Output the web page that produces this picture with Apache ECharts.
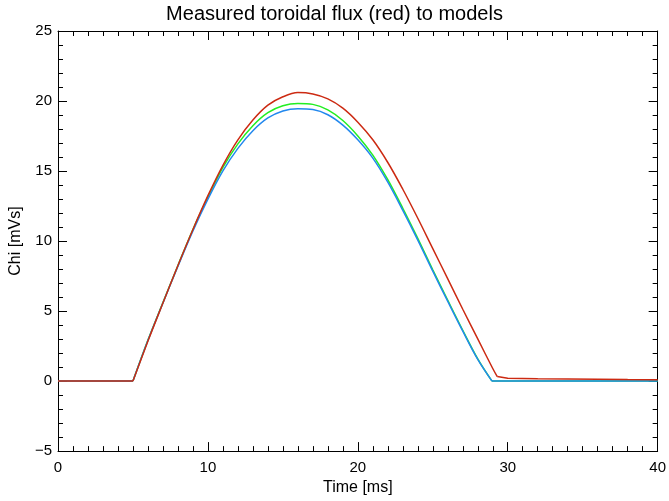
<!DOCTYPE html>
<html>
<head>
<meta charset="utf-8">
<script src="https://cdn.jsdelivr.net/npm/echarts@6/dist/echarts.min.js"></script>
<style>html,body{margin:0;padding:0;background:#fff}#c{width:669px;height:501px}</style>
</head>
<body>
<div id="c"></div>
<script>
// Measured (red) toroidal flux
const timeRed = [0,1,2,3,4,5,6,7,8,9,10,11,12,13,14,15,16,17,18,19,20,21,22,23,24,25,26,27,28,29,29.3,30,32,34,36,38,40];
const red     = [0,0,0,0,0,0,2.86,5.58,8.26,10.83,13.24,15.41,17.23,18.64,19.7,20.3,20.6,20.5,20.15,19.49,18.49,17.23,15.61,13.7,11.63,9.46,7.3,5.13,3.01,0.9,0.32,0.2,0.17,0.15,0.13,0.11,0.1];
// Models
const timeModel = [0,1,2,3,4,5,6,7,8,9,10,11,12,13,14,15,16,17,18,19,20,21,22,23,24,25,26,27,28,28.95,30,32,34,36,38,40];
const green = [0,0,0,0,0,0,2.93,5.61,8.26,10.83,13.14,15.26,16.94,18.24,19.17,19.66,19.82,19.76,19.37,18.61,17.51,16.14,14.38,12.34,10.19,7.95,5.77,3.63,1.59,0,0,0,0,0,0,0];
const blue  = [0,0,0,0,0,0,2.91,5.58,8.2,10.72,12.99,15.01,16.62,17.88,18.79,19.29,19.45,19.39,19.02,18.28,17.23,15.92,14.2,12.19,10.07,7.85,5.69,3.57,1.55,0,0,0,0,0,0,0];
const xTicks = [0,10,20,30,40];
const yTicks = [-5,0,5,10,15,20,25];

const pairs = (t, v) => t.map((x, i) => [x, v[i]]);
// split a trace into flat start, smooth hump and flat tail
const parts = (t, v, t0, t1) => {
  const p = pairs(t, v);
  return [p.filter(d => d[0] <= t0), p.filter(d => d[0] >= t0 && d[0] <= t1), p.filter(d => d[0] >= t1)];
};

const font = 'Liberation Sans';
const axisLine = {show: true, onZero: false, lineStyle: {color: '#000', width: 1}};
const tick = {show: true, inside: true, length: 9, lineStyle: {color: '#000', width: 1}};
const minor = (n) => ({show: true, splitNumber: n, length: 5, lineStyle: {color: '#000', width: 1}});

const traces = [
  {color: '#22ee22', z: 2, p: parts(timeModel, green, 5, 28.95)},
  {color: '#2288ee', z: 3, p: parts(timeModel, blue, 5, 28.95)},
  {color: '#cc2a12', z: 4, p: parts(timeRed, red, 5, 29.3)}
];
const series = [];
traces.forEach(tr => tr.p.forEach((d, k) => series.push({
  type: 'line', data: d, showSymbol: false, smooth: k === 1 ? 0.35 : false,
  lineStyle: {color: tr.color, width: 1.5}, z: tr.z
})));

const chart = echarts.init(document.getElementById('c'), null, {renderer: 'canvas'});
chart.setOption({
  animation: false,
  backgroundColor: '#fff',
  title: {
    text: 'Measured toroidal flux (red) to models',
    left: 'center', top: -1,
    textStyle: {fontFamily: font, fontWeight: 'normal', fontSize: 20, color: '#000'}
  },
  grid: {left: 58, right: 10, top: 31, bottom: 47},
  xAxis: [{
    type: 'value', min: 0, max: 40, interval: 10, position: 'bottom',
    name: 'Time [ms]', nameLocation: 'middle', nameGap: 28,
    nameTextStyle: {fontFamily: font, fontSize: 16, color: '#000'},
    axisLine: axisLine, axisTick: tick, minorTick: minor(10),
    axisLabel: {fontFamily: font, fontSize: 15, color: '#000', margin: 9,
      formatter: v => xTicks.includes(v) ? String(v) : ''},
    splitLine: {show: false}
  }, {
    type: 'value', min: 0, max: 40, interval: 10, position: 'top',
    axisLine: axisLine, axisTick: tick, minorTick: minor(10),
    axisLabel: {show: false}, splitLine: {show: false}
  }],
  yAxis: [{
    type: 'value', min: -5, max: 25, interval: 5, position: 'left',
    name: 'Chi [mVs]', nameLocation: 'middle', nameGap: 32,
    nameTextStyle: {fontFamily: font, fontSize: 16, color: '#000'},
    axisLine: axisLine, axisTick: tick, minorTick: minor(5),
    axisLabel: {fontFamily: font, fontSize: 15, color: '#000', margin: 6,
      formatter: v => yTicks.includes(v) ? (v < 0 ? '\u2212' + Math.abs(v) : String(v)) : ''},
    splitLine: {show: false}
  }, {
    type: 'value', min: -5, max: 25, interval: 5, position: 'right',
    axisLine: axisLine, axisTick: tick, minorTick: minor(5),
    axisLabel: {show: false}, splitLine: {show: false}
  }],
  series: series
});
</script>
</body>
</html>
